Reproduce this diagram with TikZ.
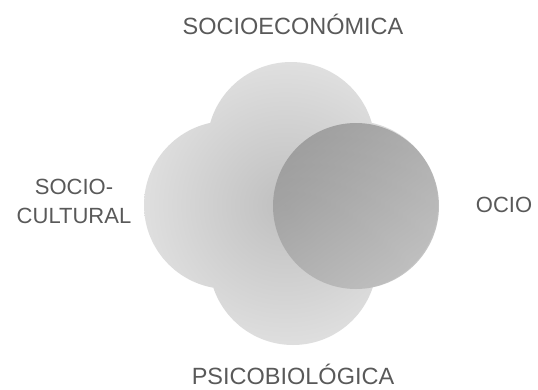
\documentclass[tikz,border=0pt]{standalone}
\usepackage{fontspec}
\setmainfont{Liberation Sans}
\begin{document}
\begin{tikzpicture}[x=1pt,y=-1pt,
  lobe/.style={circle, minimum size=168pt, inner sep=0pt, draw=none},
  lbl/.style={text=black!65, font=\fontsize{22}{29}\selectfont, align=center, inner sep=0pt},
  biglbl/.style={text=black!65, font=\fontsize{23.5}{28}\selectfont, inner sep=0pt, anchor=base}]
\useasboundingbox (0,0) rectangle (538,389);
% light lobes (union)
\begin{scope}
  \clip (291,146) circle (84) (293,261) circle (84) (228,205) circle (84) (354,205) circle (84);
  \shade[inner color=gray!50, outer color=gray!22] (285,205) circle (160);
\end{scope}
% dark circle
\begin{scope}
  \clip (356,206) circle (83);
  \shade[top color=gray!85, bottom color=gray!55, shading angle=35, opacity=0.8] (356,206) circle (90);
\end{scope}
\node[lobe] (top) at (291,146) {};
\node[lobe] (bot) at (293,261) {};
\node[lobe] (lft) at (228,205) {};
\node[lobe] (ocio) at (356,206) {};
% labels
\node[biglbl] (t1) at (293,34) {SOCIOECONÓMICA};
\node[biglbl] (t2) at (293,384) {PSICOBIOLÓGICA};
\node[lbl] (t3) at (74,201) {SOCIO-\\CULTURAL};
\node[lbl] (t4) at (504,205) {OCIO};
\end{tikzpicture}
\end{document}
